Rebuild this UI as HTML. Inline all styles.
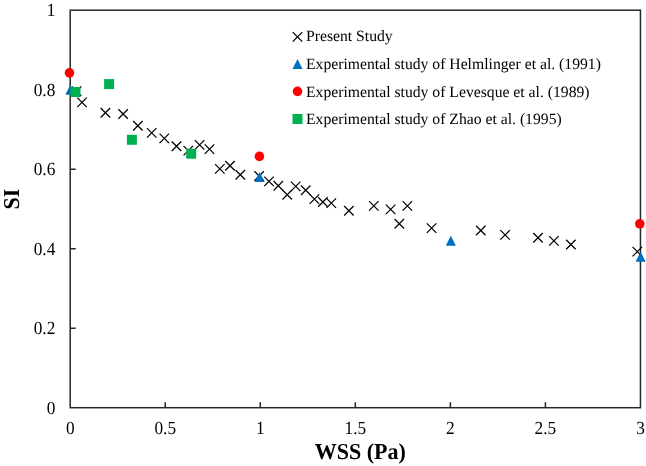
<!DOCTYPE html>
<html><head><meta charset="utf-8"><style>
html,body{margin:0;padding:0;background:#fff;width:646px;height:466px;overflow:hidden}
svg{display:block;will-change:transform}
text{font-family:"Liberation Serif",serif;text-rendering:geometricPrecision}
</style></head><body><svg width="646" height="466" viewBox="0 0 646 466"><rect x="70.2" y="10.2" width="570.25" height="397.50" fill="none" stroke="#262626" stroke-width="1.5"/><path d="M70.2 328.20h5.5M70.2 248.70h5.5M70.2 169.20h5.5M70.2 89.70h5.5M165.24 407.7v-5.5M260.28 407.7v-5.5M355.32 407.7v-5.5M450.37 407.7v-5.5M545.41 407.7v-5.5" stroke="#262626" stroke-width="1.5" fill="none"/><g font-family="Liberation Serif" font-size="17.3" fill="#000"><text transform="translate(55.3 413.60) scale(1 1.07)" text-anchor="end">0</text><text transform="translate(55.3 334.10) scale(1 1.07)" text-anchor="end">0.2</text><text transform="translate(55.3 254.60) scale(1 1.07)" text-anchor="end">0.4</text><text transform="translate(55.3 175.10) scale(1 1.07)" text-anchor="end">0.6</text><text transform="translate(55.3 95.60) scale(1 1.07)" text-anchor="end">0.8</text><text transform="translate(55.3 16.10) scale(1 1.07)" text-anchor="end">1</text><text transform="translate(70.20 434) scale(1 1.07)" text-anchor="middle">0</text><text transform="translate(165.24 434) scale(1 1.07)" text-anchor="middle">0.5</text><text transform="translate(260.28 434) scale(1 1.07)" text-anchor="middle">1</text><text transform="translate(355.32 434) scale(1 1.07)" text-anchor="middle">1.5</text><text transform="translate(450.37 434) scale(1 1.07)" text-anchor="middle">2</text><text transform="translate(545.41 434) scale(1 1.07)" text-anchor="middle">2.5</text><text transform="translate(640.45 434) scale(1 1.07)" text-anchor="middle">3</text></g><g stroke="#000" stroke-width="1.25" fill="none"><path d="M71.75 86.55L81.25 96.05M81.25 86.55L71.75 96.05"/><path d="M77.25 97.65L86.75 107.15M86.75 97.65L77.25 107.15"/><path d="M100.65 107.95L110.15 117.45M110.15 107.95L100.65 117.45"/><path d="M118.35 109.25L127.85 118.75M127.85 109.25L118.35 118.75"/><path d="M133.10 120.95L142.60 130.45M142.60 120.95L133.10 130.45"/><path d="M146.95 128.15L156.45 137.65M156.45 128.15L146.95 137.65"/><path d="M159.55 133.65L169.05 143.15M169.05 133.65L159.55 143.15"/><path d="M171.75 141.45L181.25 150.95M181.25 141.45L171.75 150.95"/><path d="M183.55 145.85L193.05 155.35M193.05 145.85L183.55 155.35"/><path d="M194.85 140.15L204.35 149.65M204.35 140.15L194.85 149.65"/><path d="M204.75 144.35L214.25 153.85M214.25 144.35L204.75 153.85"/><path d="M215.05 164.15L224.55 173.65M224.55 164.15L215.05 173.65"/><path d="M225.25 161.05L234.75 170.55M234.75 161.05L225.25 170.55"/><path d="M235.55 170.05L245.05 179.55M245.05 170.05L235.55 179.55"/><path d="M254.35 171.25L263.85 180.75M263.85 171.25L254.35 180.75"/><path d="M264.25 176.65L273.75 186.15M273.75 176.65L264.25 186.15"/><path d="M273.55 180.95L283.05 190.45M283.05 180.95L273.55 190.45"/><path d="M282.45 189.95L291.95 199.45M291.95 189.95L282.45 199.45"/><path d="M290.95 181.65L300.45 191.15M300.45 181.65L290.95 191.15"/><path d="M300.95 185.45L310.45 194.95M310.45 185.45L300.95 194.95"/><path d="M309.65 194.35L319.15 203.85M319.15 194.35L309.65 203.85"/><path d="M318.15 197.25L327.65 206.75M327.65 197.25L318.15 206.75"/><path d="M326.55 198.35L336.05 207.85M336.05 198.35L326.55 207.85"/><path d="M344.15 205.95L353.65 215.45M353.65 205.95L344.15 215.45"/><path d="M369.05 201.15L378.55 210.65M378.55 201.15L369.05 210.65"/><path d="M385.85 204.65L395.35 214.15M395.35 204.65L385.85 214.15"/><path d="M394.55 219.05L404.05 228.55M404.05 219.05L394.55 228.55"/><path d="M402.65 201.15L412.15 210.65M412.15 201.15L402.65 210.65"/><path d="M426.85 223.35L436.35 232.85M436.35 223.35L426.85 232.85"/><path d="M476.05 225.75L485.55 235.25M485.55 225.75L476.05 235.25"/><path d="M500.35 230.15L509.85 239.65M509.85 230.15L500.35 239.65"/><path d="M533.25 232.95L542.75 242.45M542.75 232.95L533.25 242.45"/><path d="M549.15 236.15L558.65 245.65M558.65 236.15L549.15 245.65"/><path d="M566.15 239.75L575.65 249.25M575.65 239.75L566.15 249.25"/><path d="M632.55 246.85L642.05 256.35M642.05 246.85L632.55 256.35"/></g><g fill="#0070C0"><path d="M70.30 84.80L75.30 94.80L65.30 94.80Z"/><path d="M259.60 172.00L264.60 182.00L254.60 182.00Z"/><path d="M450.80 235.80L455.80 245.80L445.80 245.80Z"/><path d="M640.60 251.70L645.60 261.70L635.60 261.70Z"/></g><g fill="#FF0000"><circle cx="69.50" cy="72.90" r="4.8"/><circle cx="259.40" cy="156.40" r="4.8"/><circle cx="639.80" cy="223.80" r="4.8"/></g><g fill="#00B050"><rect x="70.50" y="87.00" width="10.0" height="10.0"/><rect x="104.10" y="79.10" width="10.0" height="10.0"/><rect x="126.90" y="134.80" width="10.0" height="10.0"/><rect x="186.20" y="148.70" width="10.0" height="10.0"/></g><g stroke="#000" stroke-width="1.25" fill="none"><path d="M292.75 32.15L302.25 41.65M302.25 32.15L292.75 41.65"/></g><g fill="#0070C0"><path d="M297.50 59.00L302.50 69.00L292.50 69.00Z"/></g><g fill="#FF0000"><circle cx="297.50" cy="91.40" r="4.8"/></g><g fill="#00B050"><rect x="292.50" y="114.00" width="10.0" height="10.0"/></g><g font-family="Liberation Serif" font-size="15.7" fill="#000"><text x="306" y="41.00">Present Study</text><text x="306" y="68.80">Experimental study of Helmlinger et al. (1991)</text><text x="306" y="96.80">Experimental study of Levesque et al. (1989)</text><text x="306" y="124.10">Experimental study of Zhao et al. (1995)</text></g><text transform="translate(360.3 459.4) scale(1 1.035)" text-anchor="middle" font-family="Liberation Serif" font-weight="bold" font-size="22">WSS (Pa)</text><text transform="translate(18.8 199) rotate(-90) scale(1 1.035)" text-anchor="middle" font-family="Liberation Serif" font-weight="bold" font-size="22">SI</text></svg></body></html>
